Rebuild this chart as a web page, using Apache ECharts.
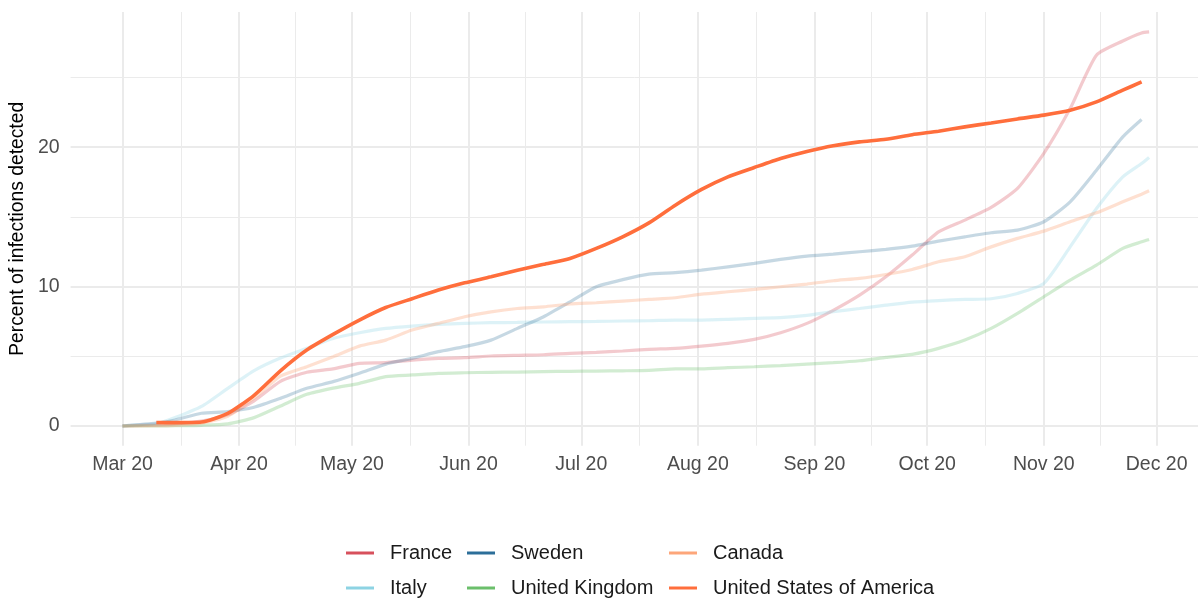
<!DOCTYPE html>
<html>
<head>
<meta charset="utf-8">
<script src="https://cdn.jsdelivr.net/npm/echarts@6.0.0/dist/echarts.min.js"></script>
<style>
  html, body { margin: 0; padding: 0; background: #fff; }
  #chart { width: 1198px; height: 599px; }
</style>
</head>
<body>
<div id="chart"></div>
<script>
// sample dates (roughly weekly)
const dates = ['2020-03-01', '2020-03-10', '2020-03-15', '2020-03-22', '2020-03-29', '2020-04-05', '2020-04-12', '2020-04-19', '2020-04-26', '2020-05-03',
  '2020-05-10', '2020-05-17', '2020-05-24', '2020-05-31', '2020-06-07', '2020-06-14', '2020-06-21', '2020-06-28', '2020-07-05', '2020-07-12',
  '2020-07-19', '2020-07-26', '2020-08-02', '2020-08-09', '2020-08-16', '2020-08-23', '2020-08-30', '2020-09-06', '2020-09-13', '2020-09-20',
  '2020-09-27', '2020-10-04', '2020-10-11', '2020-10-18', '2020-10-25', '2020-11-01', '2020-11-08', '2020-11-15', '2020-11-22', '2020-11-27',
  '2020-11-29']

// percent of infections detected, per country
const france = [0.0, 0.08, 0.15, 0.35, 0.8, 1.8, 3.2, 3.85, 4.1, 4.49, 4.54, 4.73, 4.85, 4.9, 5.02, 5.07, 5.11, 5.21, 5.28, 5.38,
  5.5, 5.57, 5.73, 5.93, 6.21, 6.69, 7.36, 8.3, 9.39, 10.7, 12.26, 13.93, 14.77, 15.68, 17.04, 19.55, 22.77, 26.6, 27.62, 28.2, 28.27]
const sweden = [0.0, 0.2, 0.43, 0.91, 1.03, 1.34, 1.98, 2.7, 3.18, 3.78, 4.44, 4.85, 5.33, 5.69, 6.16, 7.0, 7.84, 8.9, 9.99, 10.5,
  10.9, 11.0, 11.18, 11.42, 11.66, 11.95, 12.19, 12.33, 12.5, 12.67, 12.9, 13.26, 13.57, 13.86, 14.05, 14.65, 16.08, 18.35, 20.74, 21.99, null]
const canada = [0.0, 0.02, 0.05, 0.2, 0.7, 2.0, 3.58, 4.25, 4.97, 5.73, 6.16, 6.88, 7.36, 7.84, 8.19, 8.43, 8.55, 8.75, 8.84, 8.96,
  9.08, 9.2, 9.46, 9.63, 9.8, 9.99, 10.18, 10.42, 10.59, 10.87, 11.23, 11.78, 12.14, 12.85, 13.46, 13.98, 14.65, 15.29, 16.08, 16.63, 16.87]
const italy = [0.0, 0.15, 0.6, 1.4, 2.7, 3.97, 4.87, 5.57, 6.28, 6.69, 7.0, 7.17, 7.29, 7.36, 7.41, 7.43, 7.46, 7.48, 7.5, 7.53,
  7.55, 7.6, 7.6, 7.65, 7.72, 7.77, 7.93, 8.2, 8.43, 8.67, 8.89, 9.0, 9.08, 9.13, 9.51, 10.23, 12.85, 15.6, 17.87, 18.83, 19.26]
const uk = [0.0, 0.0, 0.02, 0.05, 0.15, 0.6, 1.43, 2.27, 2.72, 3.06, 3.54, 3.66, 3.78, 3.82, 3.85, 3.87, 3.9, 3.92, 3.94, 3.96,
  3.99, 4.09, 4.1, 4.18, 4.25, 4.33, 4.44, 4.54, 4.68, 4.92, 5.14, 5.57, 6.16, 7.0, 8.08, 9.27, 10.47, 11.54, 12.74, 13.21, 13.38]
const usa = [null, 0.25, 0.24, 0.28, 0.9, 2.2, 3.96, 5.45, 6.57, 7.6, 8.5, 9.13, 9.75, 10.27, 10.7, 11.18, 11.6, 12.02, 12.74, 13.57,
  14.57, 15.84, 16.97, 17.87, 18.54, 19.19, 19.69, 20.1, 20.38, 20.57, 20.9, 21.15, 21.46, 21.74, 22.03, 22.3, 22.65, 23.25, 24.09, 24.68, null]

// axis breaks
const monthBreaks = ['2020-03-01', '2020-04-01', '2020-05-01', '2020-06-01', '2020-07-01', '2020-08-01', '2020-09-01', '2020-10-01', '2020-11-01', '2020-12-01']
const monthNames = ['Jan', 'Feb', 'Mar', 'Apr', 'May', 'Jun', 'Jul', 'Aug', 'Sep', 'Oct', 'Nov', 'Dec']
const yMajor = [0, 10, 20]
const yMinor = [5, 15, 25]

const DAY = 86400000
const ts = s => Date.parse(s + 'T00:00:00Z')
const xMin = ts('2020-03-01') - 13.8 * DAY
const xMax = ts('2020-03-01') + 286 * DAY

const countries = [
  { name: 'France', data: france, color: '#D7505C', faded: 'rgba(215,80,92,0.3)' },
  { name: 'Italy', data: italy, color: '#8DD3E3', faded: 'rgba(141,211,227,0.3)' },
  { name: 'Sweden', data: sweden, color: '#2C6E99', faded: 'rgba(44,110,153,0.27)' },
  { name: 'United Kingdom', data: uk, color: '#6BBF6B', faded: 'rgba(107,191,107,0.3)' },
  { name: 'Canada', data: canada, color: '#FDA67A', faded: 'rgba(253,166,122,0.35)' },
  { name: 'United States of America', data: usa, color: '#FF6E3C', faded: '#FF6E3C' }
]

const font = 'Liberation Sans, Arial, sans-serif'

// grid lines as mark lines (ggplot style major + minor)
const minorX = []
for (let i = 0; i < monthBreaks.length - 1; i++) {
  minorX.push((ts(monthBreaks[i]) + ts(monthBreaks[i + 1])) / 2)
}
const gridLines = []
monthBreaks.forEach(m => gridLines.push({ xAxis: ts(m), lineStyle: { color: '#EBEBEB', width: 2, type: 'solid' } }))
minorX.forEach(m => gridLines.push({ xAxis: m, lineStyle: { color: '#EBEBEB', width: 1, type: 'solid' } }))
yMajor.forEach(v => gridLines.push({ yAxis: v, lineStyle: { color: '#EBEBEB', width: 2, type: 'solid' } }))
yMinor.forEach(v => gridLines.push({ yAxis: v, lineStyle: { color: '#EBEBEB', width: 1, type: 'solid' } }))

const series = [{
  name: 'grid',
  type: 'line',
  data: [],
  silent: true,
  z: 1,
  markLine: {
    silent: true,
    animation: false,
    symbol: ['none', 'none'],
    label: { show: false },
    z: 1,
    data: gridLines
  }
}]
countries.forEach(c => {
  const isUsa = c.name === 'United States of America'
  series.push({
    name: c.name,
    type: 'line',
    color: c.color,
    showSymbol: false,
    symbol: 'none',
    smooth: 0.2,
    z: isUsa ? 4 : 3,
    lineStyle: { color: c.faded, width: isUsa ? 3.6 : 3.2 },
    data: dates.map((d, i) => [ts(d), c.data[i]])
  })
})

// one vertical legend per column, like the ggplot guide
function legendFor(names, left) {
  return {
    orient: 'vertical',
    left: left,
    top: 543,
    padding: 0,
    icon: 'rect',
    itemWidth: 28,
    itemHeight: 3,
    itemGap: 15,
    selectedMode: false,
    textStyle: { fontFamily: font, fontSize: 20, color: '#1A1A1A', lineHeight: 20, padding: [0, 0, 0, 11] },
    data: names.map(n => {
      const c = countries.find(x => x.name === n)
      return { name: n, itemStyle: { color: c.color, opacity: 1 } }
    })
  }
}

const option = {
  backgroundColor: '#fff',
  useUTC: true,
  animation: false,
  grid: { left: 68, right: 0, top: 12, bottom: 153.3 },
  legend: [
    legendFor(['France', 'Italy'], 346),
    legendFor(['Sweden', 'United Kingdom'], 467),
    legendFor(['Canada', 'United States of America'], 669)
  ],
  xAxis: {
    type: 'time',
    min: xMin,
    max: xMax,
    splitNumber: 10,
    axisLine: { show: false },
    axisTick: { show: false },
    splitLine: { show: false },
    axisLabel: {
      margin: 9,
      fontFamily: font,
      fontSize: 19.5,
      color: '#4D4D4D',
      showMinLabel: false,
      showMaxLabel: false,
      hideOverlap: false,
      formatter: function(val) {
        const d = new Date(val)
        if (d.getUTCDate() !== 1 || d.getUTCHours() !== 0) return ''
        return monthNames[d.getUTCMonth()] + ' 20'
      }
    }
  },
  yAxis: {
    type: 'value',
    min: -1.415,
    max: 29.7,
    splitNumber: 3,
    name: 'Percent of infections detected',
    nameLocation: 'middle',
    nameGap: 36,
    nameTextStyle: { fontFamily: font, fontSize: 19.3, color: '#000' },
    axisLine: { show: false },
    axisTick: { show: false },
    splitLine: { show: false },
    axisLabel: {
      margin: 11,
      fontFamily: font,
      fontSize: 19.5,
      color: '#4D4D4D',
      showMinLabel: false,
      showMaxLabel: false,
      formatter: function(v) {
        return yMajor.indexOf(v) >= 0 ? String(v) : ''
      }
    }
  },
  series: series
}

const chart = echarts.init(document.getElementById('chart'))
chart.setOption(option)
window.addEventListener('resize', () => { chart.resize() })
</script>
</body>
</html>
